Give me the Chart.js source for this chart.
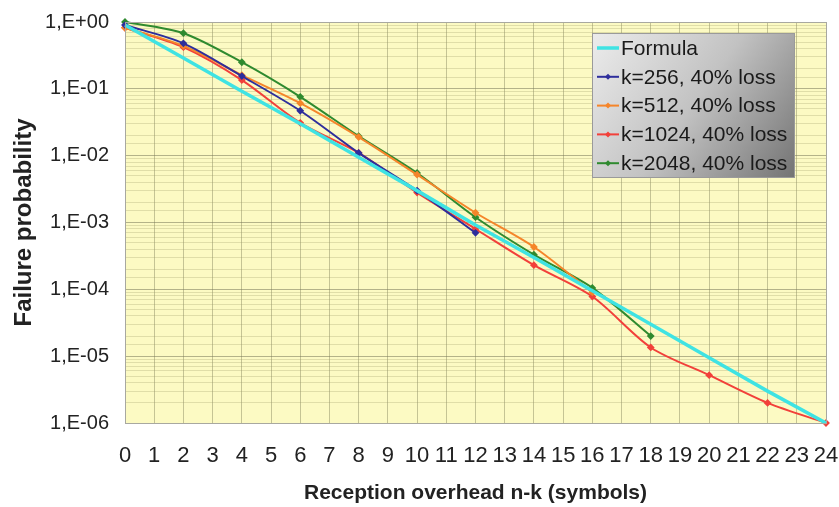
<!DOCTYPE html>
<html>
<head>
<meta charset="utf-8">
<script src="https://cdn.jsdelivr.net/npm/chart.js@4.4.0/dist/chart.umd.min.js"></script>
<style>
  html, body { margin: 0; padding: 0; background: #fff; }
  #wrap { width: 839px; height: 507px; }
</style>
</head>
<body>
<div id="wrap"><canvas id="c"></canvas></div>
<script>
// reception overhead (x) for each point
const overhead = [0, 2, 4, 6, 8, 10, 12, 14, 16, 18, 20, 22, 24];

// failure probability
const formula = [0.9, 0.29, 0.092, 0.03, 0.0095, 0.003, 0.00092, 0.0003, 0.000095, 0.00003, 0.0000095, 0.000003, 0.000001];
const k256 = [0.9, 0.48, 0.155, 0.047, 0.011, 0.003, 0.0007];
const k512 = [0.82, 0.44, 0.16, 0.061, 0.019, 0.0052, 0.0014, 0.00043, 0.00009];
const k1024 = [0.82, 0.42, 0.135, 0.031, 0.011, 0.0028, 0.0008, 0.00023, 0.000078, 0.0000135, 0.0000052, 0.000002, 0.000001];
const k2048 = [1.0, 0.68, 0.25, 0.076, 0.0196, 0.0055, 0.0012, 0.00033, 0.000105, 0.00002];

const seriesNames = ["Formula", "k=256, 40% loss", "k=512, 40% loss", "k=1024, 40% loss", "k=2048, 40% loss"];
const seriesColors = ["#3fe3e3", "#2e2e9c", "#f5852a", "#f2403a", "#2f8a2f"];

const pts = (vals) => vals.map((v, i) => ({ x: overhead[i], y: v }));

const FONT = "'Liberation Sans', Arial, sans-serif";

function fmtTick(v) {
  const e = Math.round(Math.log10(v));
  if (Math.abs(Math.log10(v) - e) > 1e-6) return "";
  const s = e < 0 ? "-" : "+";
  return "1,E" + s + String(Math.abs(e)).padStart(2, "0");
}
const isMajor = (v) => fmtTick(v) !== "";

const plotBg = {
  id: "plotBg",
  beforeDraw(chart) {
    const { ctx, chartArea: a } = chart;
    ctx.save();
    ctx.fillStyle = "#fcfac3";
    ctx.fillRect(a.left, a.top, a.width, a.height);
    ctx.restore();
  },
  afterDatasetsDraw(chart) {
    const { ctx, chartArea: a } = chart;
    ctx.save();
    ctx.strokeStyle = "#a8a8a0";
    ctx.lineWidth = 1;
    ctx.strokeRect(a.left + 0.5, a.top + 0.5, a.width, a.height);
    ctx.restore();
  }
};

// grey boxed legend drawn by hand (gradient fill)
const boxLegend = {
  id: "boxLegend",
  afterDraw(chart) {
    const { ctx } = chart;
    const x0 = 592, y0 = 33, w = 202, h = 144;
    ctx.save();
    const g = ctx.createLinearGradient(x0, y0, x0 + w, y0 + h);
    g.addColorStop(0, "#ececec");
    g.addColorStop(0.5, "#c2c2c2");
    g.addColorStop(1, "#747474");
    ctx.fillStyle = g;
    ctx.fillRect(x0, y0, w, h);
    ctx.strokeStyle = "#9a9a9a";
    ctx.lineWidth = 1;
    ctx.strokeRect(x0 + 0.5, y0 + 0.5, w, h);
    ctx.font = "21px " + FONT;
    ctx.textBaseline = "middle";
    chart.data.datasets.forEach((ds, i) => {
      const y = 48 + i * 28.8;
      ctx.strokeStyle = ds.borderColor;
      ctx.lineWidth = i === 0 ? 3.5 : 2;
      ctx.beginPath();
      ctx.moveTo(597, y);
      ctx.lineTo(619, y);
      ctx.stroke();
      if (i > 0) {
        ctx.fillStyle = ds.borderColor;
        ctx.beginPath();
        ctx.moveTo(608, y - 3); ctx.lineTo(611, y); ctx.lineTo(608, y + 3); ctx.lineTo(605, y);
        ctx.closePath();
        ctx.fill();
      }
      ctx.fillStyle = "#1a1a1a";
      ctx.fillText(ds.label, 621, y + 1);
    });
    ctx.restore();
  }
};

const datasets = [formula, k256, k512, k1024, k2048].map((vals, i) => ({
  label: seriesNames[i],
  data: pts(vals),
  borderColor: seriesColors[i],
  backgroundColor: seriesColors[i],
  borderWidth: i === 0 ? 3.5 : 2,
  pointRadius: i === 0 ? 0 : 2.5,
  pointStyle: "rectRot",
  tension: i === 0 ? 0 : 0.3,
  clip: 6
}));

new Chart(document.getElementById("c"), {
  type: "line",
  data: { datasets },
  options: {
    responsive: true,
    maintainAspectRatio: false,
    animation: false,
    layout: { autoPadding: false, padding: { left: 0, top: 22, right: 13, bottom: 0 } },
    plugins: { legend: { display: false }, tooltip: { enabled: false } },
    scales: {
      x: {
        type: "linear",
        min: 0,
        max: 24,
        afterFit: (s) => { s.height = 84; s.paddingLeft = 0; s.paddingRight = 0; },
        ticks: {
          stepSize: 1,
          autoSkip: false,
          maxRotation: 0,
          padding: 20,
          color: "#222",
          font: { family: FONT, size: 22 }
        },
        grid: { color: "rgba(130,130,90,0.45)", drawTicks: false },
        border: { display: false },
        title: {
          display: true,
          text: "Reception overhead n-k (symbols)",
          color: "#222",
          font: { family: FONT, size: 21, weight: "bold" },
          padding: { top: 0, bottom: 1 }
        }
      },
      y: {
        type: "logarithmic",
        min: 0.000001,
        max: 1,
        afterFit: (s) => { s.width = 125; s.paddingTop = 0; s.paddingBottom = 0; },
        afterBuildTicks: (s) => {
          s.ticks = s.ticks.filter((t) => t.value >= 0.000001 && t.value <= 1);
        },
        ticks: {
          autoSkip: false,
          padding: 16,
          color: "#222",
          font: { family: FONT, size: 20 },
          callback: (v) => fmtTick(v)
        },
        grid: {
          drawTicks: false,
          color: (c) => isMajor(c.tick.value) ? "rgba(120,120,90,0.55)" : "rgba(150,150,100,0.28)"
        },
        border: { display: false },
        title: {
          display: true,
          text: "Failure probability",
          color: "#222",
          font: { family: FONT, size: 24, weight: "bold" },
          padding: { top: 10, bottom: 0 }
        }
      }
    }
  },
  plugins: [plotBg, boxLegend]
});
</script>
</body>
</html>
